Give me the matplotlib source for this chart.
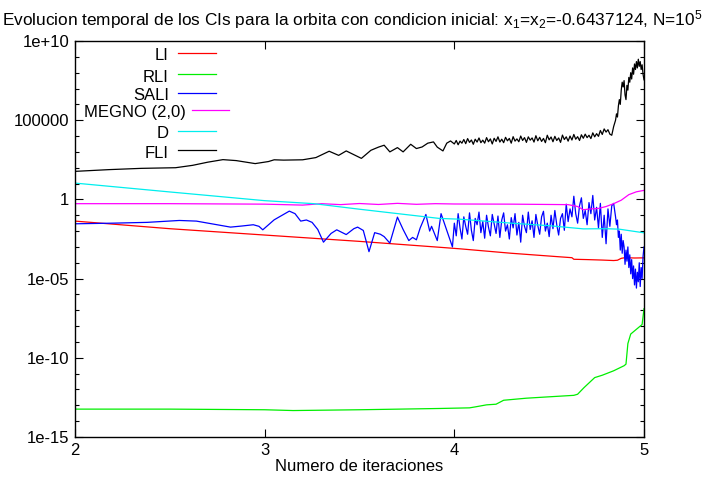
import numpy as np
import matplotlib.pyplot as plt
from matplotlib.ticker import FixedLocator, FixedFormatter, NullFormatter

plt.rcParams['font.family'] = ['Liberation Sans', 'DejaVu Sans']
plt.rcParams['mathtext.fontset'] = 'custom'
plt.rcParams['mathtext.rm'] = 'Liberation Sans'
plt.rcParams['mathtext.it'] = 'Liberation Sans:italic'

# eje x = log10(iteraciones); valores de los indicadores guardados como log10

# LI
li_x = [2.0, 2.5, 3.0, 3.5, 3.92, 4.03, 4.3, 4.55, 4.62, 4.63, 4.7, 4.78, 4.84, 4.86, 4.88, 4.9, 4.95, 5.0]
li_log = [-1.37, -1.85, -2.25, -2.65, -3.02, -3.12, -3.40, -3.62, -3.68, -3.78, -3.80, -3.83, -3.86, -3.84, -3.72, -3.68, -3.70, -3.69]

# RLI
rli_x = [2.0, 2.5, 3.0, 3.15, 3.5, 3.92, 4.08, 4.11, 4.17, 4.22, 4.26, 4.38, 4.49, 4.63, 4.65,
         4.684, 4.74, 4.78, 4.84, 4.895, 4.905, 4.915, 4.93, 4.96, 4.99, 5.0]
rli_log = [-13.24, -13.24, -13.28, -13.33, -13.28, -13.2, -13.16, -13.1, -12.97, -12.93, -12.68, -12.55,
           -12.47, -12.37, -12.3, -11.88, -11.25, -11.1, -10.82, -10.5, -10.4, -9.1, -8.5, -8.2, -7.9, -6.9]

# SALI: tramo suave hasta 4 y tramos ruidosos despues
sali_x_a = [2.00, 2.20, 2.38, 2.55, 2.64, 2.75, 2.82, 2.88, 2.94, 2.97, 2.99, 3.05, 3.10, 3.13, 3.16,
            3.19, 3.22, 3.25, 3.28, 3.31, 3.35, 3.38, 3.43, 3.47, 3.49, 3.52, 3.55, 3.58, 3.61, 3.63,
            3.66, 3.70, 3.73, 3.76, 3.78, 3.80, 3.82, 3.85, 3.87, 3.88, 3.91, 3.93, 3.96, 3.99]
sali_log_a = [-1.54, -1.50, -1.45, -1.33, -1.37, -1.60, -1.75, -1.68, -1.60, -1.70, -1.92, -1.29, -0.95,
              -0.74, -0.90, -1.37, -1.30, -1.45, -1.90, -2.70, -2.15, -1.92, -2.22, -1.85, -1.75, -1.96,
              -3.30, -2.10, -2.20, -2.35, -2.76, -1.12, -1.90, -2.60, -2.40, -2.55, -1.80, -0.95, -2.00,
              -1.70, -2.60, -0.90, -1.96, -3.00]
sali_log_b = [-1.50, -2.30, -0.90, -1.80, -2.50, -1.10, -1.70, -2.20, -0.85, -1.95,
              -2.60, -1.20, -1.60, -0.80, -2.10, -1.40, -2.45, -1.00, -1.75, -2.30,
              -0.95, -1.55, -2.15, -1.05, -2.40, -1.30, -0.85, -2.00, -1.60, -2.50,
              -1.15, -1.80, -0.90, -2.25, -1.45, -2.70, -1.00, -1.70, -2.10, -0.80,
              -1.90, -1.35, -2.40, -0.95, -1.65, -2.20, -1.10, -0.75, -2.00, -1.50,
              -2.35, -1.00, -1.85, -0.70, -1.60, -2.25, -1.20, -0.90, -1.95, -0.30,
              -1.40, -0.60, -1.10, 0.20, -0.90, -1.50, -0.40, 0.10, -1.20, -0.70,
              -1.60, -0.20, -0.90, 0.25, -1.30, -0.50, -1.80, -0.25, -2.40, -1.00,
              -2.80, -0.60, -1.70, -0.40, -0.25]
sali_log_c = [-1.10, -1.60, -1.30, -2.40, -2.00, -3.20, -2.20, -3.40, -2.60, -3.00,
              -4.10, -3.20, -3.90, -3.00, -4.30, -3.50, -4.70, -3.80, -5.00, -4.20,
              -5.40, -4.40, -5.60, -4.60, -5.20, -4.00, -5.50, -4.30, -5.00, -3.60, -3.00]

# MEGNO (2,0)
megno_x = [2.0, 2.5, 3.0, 3.2, 3.3, 3.4, 3.5, 3.6, 3.7, 3.8, 3.9, 4.0, 4.3, 4.6, 4.65, 4.68, 4.72,
           4.76, 4.8, 4.84, 4.88, 4.92, 4.96, 5.0]
megno_log = [-0.27, -0.27, -0.3, -0.36, -0.27, -0.33, -0.26, -0.32, -0.25, -0.31, -0.27, -0.29, -0.3,
             -0.33, -0.45, -0.65, -0.6, -0.57, -0.45, -0.27, -0.05, 0.3, 0.48, 0.57]

# D
d_x = [2.0, 2.5, 3.0, 3.26, 3.5, 3.92, 4.03, 4.3, 4.5, 4.68, 4.8, 4.87, 5.0]
d_log = [1.03, 0.47, -0.08, -0.27, -0.62, -1.2, -1.25, -1.5, -1.66, -1.86, -1.85, -1.88, -2.11]

# FLI
fli_x_a = [2.0, 2.18, 2.35, 2.53, 2.62, 2.7, 2.78, 2.85, 2.95, 3.02, 3.05, 3.1, 3.2, 3.27, 3.34, 3.39,
           3.43, 3.51, 3.56, 3.6, 3.63, 3.66, 3.7, 3.73, 3.77, 3.8, 3.83, 3.86, 3.89, 3.91, 3.94, 3.96,
           3.98]
fli_log_a = [1.77, 1.88, 1.96, 2.0, 2.15, 2.35, 2.51, 2.45, 2.26, 2.39, 2.5, 2.48, 2.5, 2.64, 3.04,
             2.78, 3.06, 2.59, 3.1, 3.3, 3.42, 3.0, 3.27, 3.0, 3.48, 3.21, 3.31, 3.55, 3.63, 3.3, 3.06,
             3.55, 3.69]
fli_log_b = [3.50, 3.72, 3.45, 3.68, 3.55, 3.78, 3.52, 3.84, 3.60, 3.75,
             3.48, 3.80, 3.62, 3.88, 3.58, 3.74, 3.55, 3.90, 3.64, 3.82,
             3.50, 3.86, 3.66, 3.95, 3.62, 3.80, 3.58, 3.92, 3.70, 3.85,
             3.55, 3.96, 3.68, 3.82, 3.64, 4.00, 3.72, 3.90, 3.60, 3.95,
             3.74, 3.88, 3.62, 4.02, 3.70, 3.92, 3.66, 3.85, 3.58, 4.05,
             3.76, 3.94, 3.64, 3.98, 3.72, 3.88, 3.60, 4.06, 3.78, 3.95,
             3.68, 4.00, 3.75, 4.10, 3.80, 3.96, 3.72, 4.08, 3.86, 4.12,
             3.90, 4.05, 3.84, 4.20, 3.95, 4.15, 3.98, 4.35, 4.10, 4.45,
             4.25, 4.40, 4.12, 4.05, 4.60]
fli_log_c = [5.00, 5.40, 5.20, 5.90, 6.30, 6.00, 6.90, 7.40, 7.10, 7.50,
             6.60, 6.30, 7.20, 6.90, 7.70, 7.40, 8.00, 7.60, 8.30, 7.90,
             8.55, 8.20, 8.70, 8.30, 8.85, 8.40, 8.70, 8.20, 8.50, 7.90, 7.55]

x_b = np.linspace(4.0, 4.84, len(fli_log_b))
x_c = np.linspace(4.85, 5.0, len(fli_log_c))

sali_x = np.concatenate([sali_x_a, x_b, x_c])
sali_log = np.concatenate([sali_log_a, sali_log_b, sali_log_c])
fli_x = np.concatenate([fli_x_a, x_b, x_c])
fli_log = np.concatenate([fli_log_a, fli_log_b, fli_log_c])

series = [
    ("LI", li_x, li_log, "#ff0000"),
    ("RLI", rli_x, rli_log, "#00ee00"),
    ("SALI", sali_x, sali_log, "#0000ff"),
    ("MEGNO (2,0)", megno_x, megno_log, "#ff00ff"),
    ("D", d_x, d_log, "#00eeee"),
    ("FLI", fli_x, fli_log, "#000000"),
]

W, H = 704, 479
fs = 12
fig = plt.figure(figsize=(W / 100, H / 100), dpi=100)
ax = fig.add_axes([75 / W, 1 - 437 / H, (644 - 75) / W, (437 - 41) / H])

for name, xs, ys, col in series:
    ax.plot(xs, 10.0 ** np.asarray(ys), color=col, lw=0.9)

ax.set_yscale('log')
ax.set_xlim(2, 5)
ax.set_ylim(1e-15, 1e10)

ax.xaxis.set_major_locator(FixedLocator([2, 3, 4, 5]))
ax.xaxis.set_major_formatter(FixedFormatter(['2', '3', '4', '5']))
ax.xaxis.set_minor_locator(FixedLocator([]))
ax.yaxis.set_major_locator(FixedLocator([1e-15, 1e-10, 1e-5, 1, 1e5, 1e10]))
ax.yaxis.set_major_formatter(FixedFormatter(['1e-15', '1e-10', '1e-05', '1', '100000', '1e+10']))
ax.yaxis.set_minor_locator(FixedLocator([10.0 ** k for k in range(-15, 11) if k % 5 != 0]))
ax.yaxis.set_minor_formatter(NullFormatter())
ax.tick_params(which='both', direction='in', top=True, right=True, width=0.8, labelsize=fs)
ax.tick_params(which='major', length=6, pad=4)
ax.tick_params(which='minor', length=3)
for s in ax.spines.values():
    s.set_linewidth(1.0)

ax.set_xlabel("Numero de iteraciones", fontsize=fs, labelpad=1)
fig.text(0.5, 1 - 20 / H,
         "Evolucion temporal de los CIs para la orbita con condicion inicial: "
         "x$_1$=x$_2$=-0.6437124, N=10$^5$",
         ha='center', va='center', fontsize=12.4)

# leyenda al estilo gnuplot: texto alineado a la derecha y muestra de linea
leg_y = [53, 74, 93, 110, 131, 150]
for (name, xs, ys, col), yy in zip(series, leg_y):
    if name.startswith("MEGNO"):
        tx, l0, l1 = 186, 192, 229
    else:
        tx, l0, l1 = 169, 178, 216
    fig.text(tx / W, 1 - (yy + 3) / H, name, ha='right', va='center', fontsize=fs)
    fig.add_artist(plt.Line2D([l0 / W, l1 / W], [1 - yy / H, 1 - yy / H],
                              color=col, lw=0.9, transform=fig.transFigure))

fig.savefig("out.png", dpi=100)
